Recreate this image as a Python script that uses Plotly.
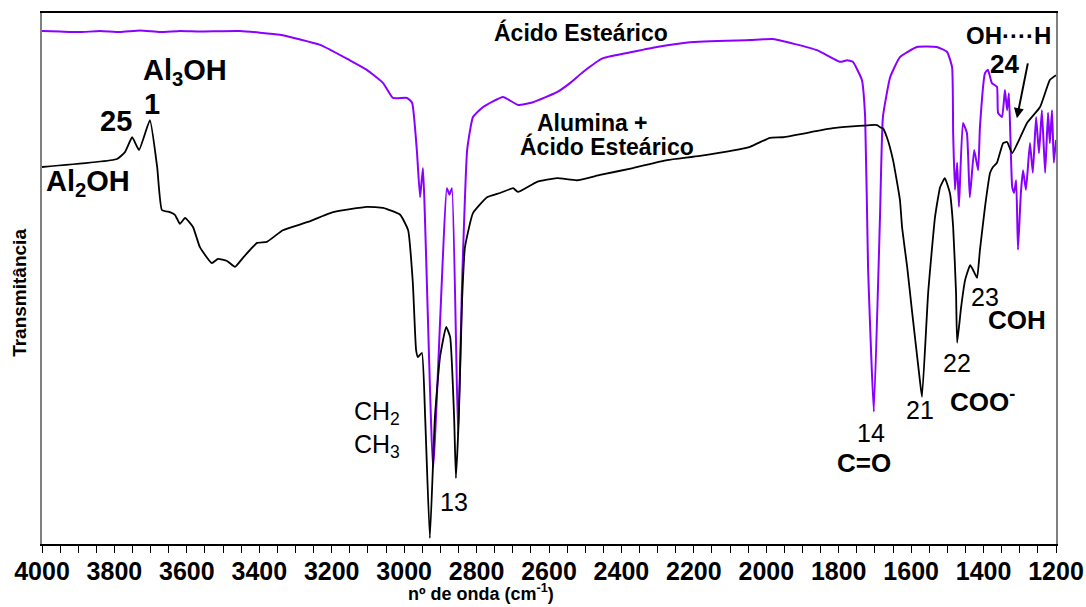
import plotly.graph_objects as go

# Ácido Esteárico (purple)
acid_wn = [4000, 3950, 3895, 3840, 3785, 3729, 3674, 3619, 3564, 3453, 3343, 3232, 3150,
           3103, 3058, 3031, 2992, 2978, 2965, 2956, 2948, 2920, 2882, 2875, 2868, 2851,
           2840, 2826, 2810, 2782, 2727, 2686, 2644, 2578, 2542, 2506, 2451, 2368, 2302,
           2211, 2045, 1981, 1860, 1796, 1777, 1761, 1736, 1727, 1719, 1703, 1686, 1678,
           1658, 1631, 1584, 1529, 1501, 1487, 1484, 1479, 1473, 1468, 1457, 1446, 1438,
           1426, 1415, 1410, 1396, 1388, 1377, 1363, 1360, 1349, 1341, 1335, 1330, 1321,
           1316, 1310, 1305, 1297, 1291, 1283, 1272, 1264, 1255, 1247, 1239, 1230, 1222,
           1217, 1211, 1206, 1200]
acid_t = [96.6, 96.5, 96.4, 96.6, 96.4, 96.7, 96.4, 96.6, 96.5, 96.6, 95.9, 94.0, 91.1,
          89.3, 86.8, 84.0, 84.0, 83.1, 74.2, 65.3, 70.8, 14.3, 67.0, 65.8, 67.0, 20.5,
          49.2, 74.2, 80.4, 82.3, 84.2, 82.7, 83.2, 85.1, 86.8, 88.9, 91.5, 92.7, 93.6,
          94.5, 94.9, 95.1, 93.0, 90.8, 91.1, 90.8, 87.4, 80.4, 52.2, 24.9, 61.6, 80.4,
          87.9, 91.7, 93.6, 93.6, 92.7, 89.8, 77.4, 66.7, 71.8, 63.5, 79.3, 77.4, 65.3,
          74.2, 70.4, 78.5, 88.7, 89.3, 86.8, 86.1, 81.2, 80.4, 85.5, 81.7, 84.9, 67.2,
          66.1, 68.5, 55.4, 66.1, 70.4, 66.7, 75.5, 69.9, 80.4, 73.6, 81.7, 69.9, 81.2,
          75.5, 81.7, 71.8, 76.1]

# Alumina + Ácido Esteárico (black)
mix_wn = [4000, 3793, 3771, 3751, 3732, 3702, 3682, 3669, 3647, 3633, 3619, 3605, 3583,
          3564, 3531, 3514, 3489, 3467, 3445, 3406, 3379, 3335, 3268, 3196, 3103, 3058,
          3011, 2989, 2976, 2967, 2962, 2951, 2942, 2929, 2915, 2901, 2884, 2873, 2862,
          2857, 2849, 2840, 2832, 2810, 2771, 2735, 2699, 2686, 2633, 2578, 2523, 2459,
          2368, 2274, 2183, 2045, 1990, 1954, 1816, 1714, 1694, 1686, 1678, 1667, 1650,
          1631, 1625, 1611, 1598, 1576, 1570, 1553, 1534, 1520, 1507, 1493, 1484, 1476,
          1473, 1462, 1451, 1437, 1429, 1418, 1410, 1396, 1382, 1374, 1363, 1346, 1335,
          1321, 1280, 1244, 1217, 1200]
mix_t = [71.0, 72.5, 73.8, 76.6, 74.2, 79.8, 71.0, 62.9, 62.5, 62.0, 60.3, 61.4, 59.7,
         55.9, 52.9, 53.7, 53.3, 52.2, 53.9, 56.7, 56.9, 59.1, 60.6, 62.5, 63.5, 63.3,
         62.0, 59.1, 49.2, 36.5, 35.2, 36.0, 23.9, 1.1, 23.9, 35.2, 40.9, 39.0, 23.9,
         12.4, 23.9, 46.0, 55.9, 62.3, 65.3, 66.1, 67.0, 66.3, 68.2, 68.9, 68.5, 69.5,
         70.8, 72.3, 73.1, 74.8, 76.5, 76.6, 78.3, 78.9, 78.9, 78.5, 78.3, 76.6, 72.3,
         64.8, 59.6, 52.2, 44.1, 30.9, 27.7, 47.3, 61.6, 67.2, 68.9, 66.1, 59.7, 47.3,
         37.9, 44.6, 49.7, 52.5, 51.6, 50.1, 55.4, 63.5, 69.9, 71.0, 71.8, 75.5, 75.7,
         73.6, 79.3, 82.3, 87.4, 88.3]

x_ticks = [4000, 3800, 3600, 3400, 3200, 3000, 2800, 2600, 2400, 2200, 2000, 1800, 1600, 1400, 1200]

# labels: (text, wavenumber, transmittance, bold, size)
labels = [
    ("Ácido Esteárico", 2512, 96.4, True, 23),
    ("Alumina +", 2481, 79.3, True, 23),
    ("Ácido Esteárico", 2440, 74.8, True, 23),
    ("Al<sub>3</sub>OH", 3605, 88.9, True, 29),
    ("1", 3696, 82.9, True, 29),
    ("25", 3796, 79.7, True, 29),
    ("Al<sub>2</sub>OH", 3873, 68.0, True, 29),
    ("CH<sub>2</sub>", 3075, 24.7, False, 25),
    ("CH<sub>3</sub>", 3075, 18.5, False, 25),
    ("13", 2862, 7.9, False, 25),
    ("14", 1711, 20.9, False, 25),
    ("C=O", 1730, 15.3, True, 26),
    ("21", 1576, 25.2, False, 25),
    ("22", 1473, 34.1, False, 25),
    ("COO<sup>-</sup>", 1404, 27.1, True, 26),
    ("23", 1396, 46.5, False, 25),
    ("COH", 1308, 42.2, True, 26),
    ("OH\u00b7\u00b7\u00b7\u00b7H", 1330, 95.8, True, 24),
    ("24", 1341, 90.4, True, 26),
]

FONT = "Arial, Liberation Sans, sans-serif"

fig = go.Figure()
fig.add_trace(go.Scatter(x=acid_wn, y=acid_t, mode="lines",
                         line=dict(color="#8a00ff", width=2, shape="spline", smoothing=0.4),
                         name="Ácido Esteárico"))
fig.add_trace(go.Scatter(x=mix_wn, y=mix_t, mode="lines",
                         line=dict(color="black", width=1.8, shape="spline", smoothing=0.4),
                         name="Alumina + Ácido Esteárico"))

for text, xw, yt, bold, size in labels:
    fig.add_annotation(x=xw, y=yt, text=text, showarrow=False,
                       font=dict(family=FONT, size=size, color="black",
                                 weight="bold" if bold else "normal"),
                       xanchor="center", yanchor="middle")

# arrow for band 24
fig.add_annotation(x=1308, y=80.2, ax=1277, ay=90.8, xref="x", yref="y", axref="x", ayref="y",
                   text="", showarrow=True, arrowhead=2, arrowsize=1, arrowwidth=2,
                   arrowcolor="black")

# axis titles
fig.add_annotation(x=0.433, y=-0.092, xref="paper", yref="paper",
                   text="<b>nº de onda (cm<sup>-1</sup>)</b>", showarrow=False,
                   font=dict(family=FONT, size=18, color="black"),
                   xanchor="center", yanchor="middle")
fig.add_annotation(x=-0.0217, y=0.473, xref="paper", yref="paper",
                   text="<b>Transmitância</b>", showarrow=False, textangle=-90,
                   font=dict(family=FONT, size=19, color="black"),
                   xanchor="center", yanchor="middle")

fig.update_layout(
    width=1086, height=607,
    margin=dict(l=42, r=30, t=13, b=63, autoexpand=False),
    paper_bgcolor="white", plot_bgcolor="white",
    showlegend=False,
    font=dict(family=FONT, color="black"),
)
fig.update_xaxes(range=[4000, 1200], autorange=False, tickvals=x_ticks, automargin=False,
                 ticktext=[str(v) for v in x_ticks],
                 ticks="outside", ticklen=7, tickwidth=1.3, tickcolor="black",
                 ticklabelstandoff=-3,
                 minor=dict(dtick=50, tick0=0, ticks="outside", ticklen=7, tickwidth=1.3,
                            tickcolor="black", showgrid=False),
                 tickfont=dict(family=FONT, size=25, color="black", weight="bold"),
                 showline=True, linecolor="black", linewidth=1.5, mirror=True,
                 showgrid=False, zeroline=False)
fig.update_yaxes(range=[0, 100], autorange=False, showticklabels=False, ticks="", automargin=False,
                 showline=True, linecolor="#7f7f7f", linewidth=2, mirror=True,
                 showgrid=False, zeroline=False)

fig.write_html("out.html", config={"displayModeBar": False},
               post_script="document.body.style.margin='0px';")
